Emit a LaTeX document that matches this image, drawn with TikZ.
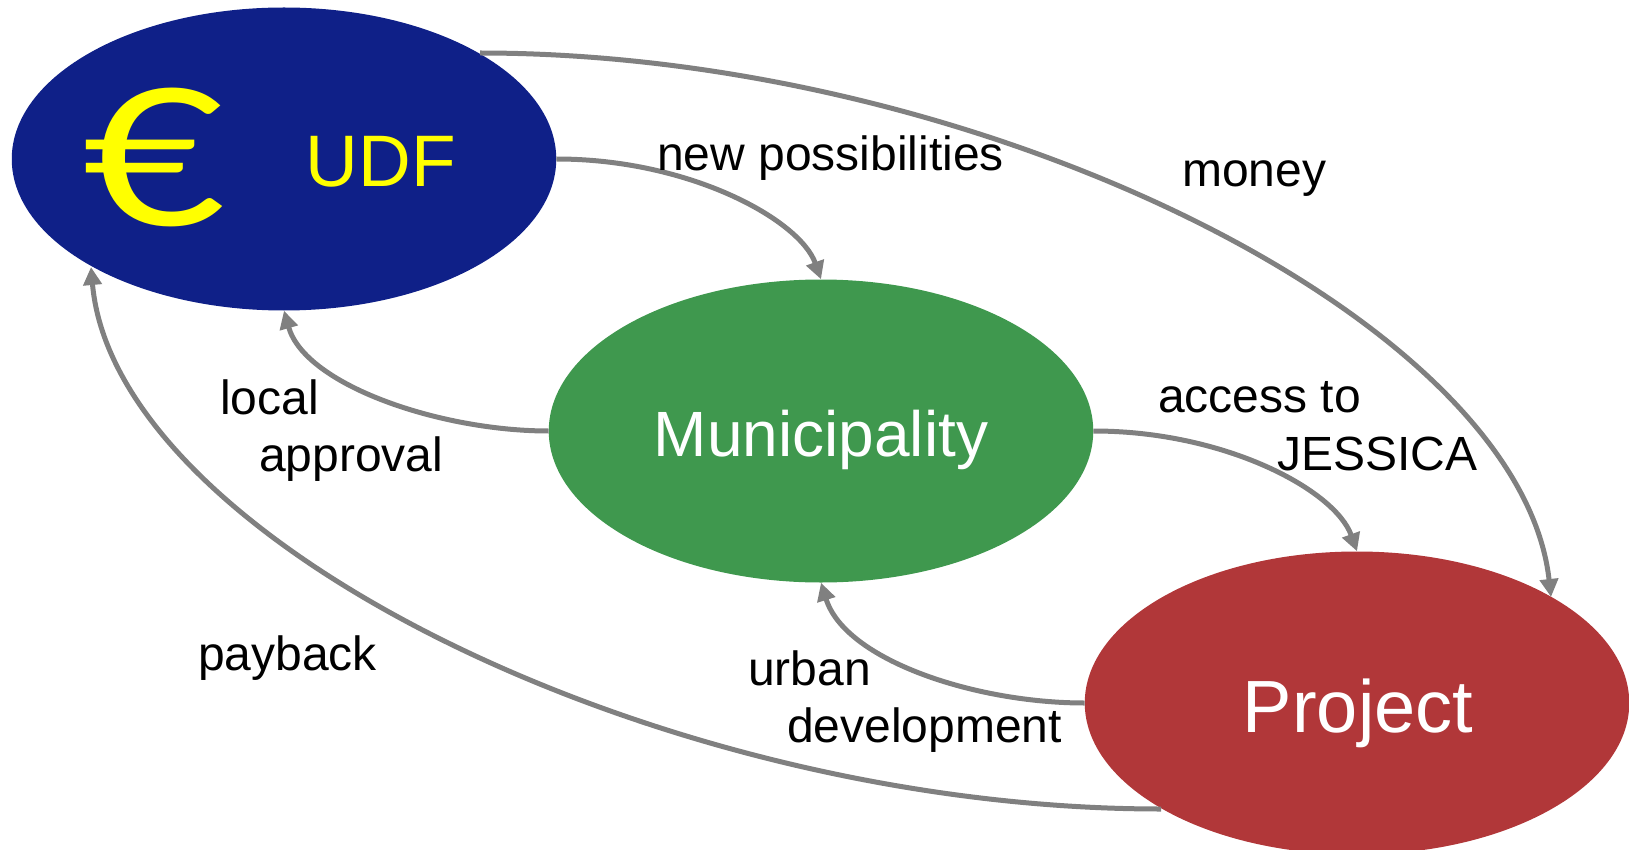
\documentclass[tikz,border=0pt]{standalone}
\usepackage{amsmath,amssymb,amsfonts}
\usepackage{fontspec}
\setmainfont{Liberation Sans}
\newfontfamily\eurofont{Lato}
\usetikzlibrary{shapes.geometric,arrows.meta}
\definecolor{udfblue}{RGB}{15,32,136}
\definecolor{municipalgreen}{RGB}{63,152,78}
\definecolor{projectred}{RGB}{177,55,57}
\definecolor{flowgray}{RGB}{128,128,128}
\definecolor{euroyellow}{RGB}{255,255,0}
\tikzset{
	actor/.style={ellipse, minimum width=544.5pt, minimum height=303pt, inner sep=0pt},
	actorname/.style={text=white, inner sep=0pt, anchor=base},
	flow/.style={line width=5pt, flowgray, -{Triangle[length=18pt,width=18pt]}},
	flowlabel/.style={font=\fontsize{48}{48}\selectfont, text=black, inner sep=0pt, anchor=base west}
}
\begin{document}
\begin{tikzpicture}[x=1pt, y=-1pt]
	\useasboundingbox (0, 0) rectangle (1629, 850);
	\node[actor, fill=udfblue] (udf) at (284, 159) {};
	\node[actor, fill=municipalgreen] (mun) at (821, 431) {};
	\node[actor, fill=projectred] (pro) at (1357, 703) {};
	\node[actorname, font=\fontsize{64}{64}\selectfont] (munname) at (821, 456) {Municipality};
	\node[actorname, font=\fontsize{74}{74}\selectfont] (proname) at (1358, 732) {Project};
	\node[actorname, text=euroyellow, font=\fontsize{73}{73}\selectfont] (udfname) at (381, 187) {UDF};
	\node[actorname, text=euroyellow, font=\eurofont\fontsize{190}{190}\selectfont, xscale=1.3] (euro) at (155, 226) {€};

	\coordinate (money0) at (480, 53);
	\coordinate (money1) at (1551, 597);
	\coordinate (pay0) at (1161, 809);
	\coordinate (pay1) at (91, 267);
	\draw[flow] (udf.east) .. controls (690, 159) and (800, 220) .. (mun.north);
	\draw[flow] (mun.west) .. controls (440, 431) and (305, 385) .. (udf.south);
	\draw[flow] (mun.east) .. controls (1225, 431) and (1335, 490) .. (pro.north);
	\draw[flow] (pro.west) .. controls (975, 703) and (845, 660) .. (mun.south);
	\draw[flow] (money0) .. controls (980, 53) and (1520, 320) .. (money1);
	\draw[flow] (pay0) .. controls (660, 809) and (115, 540) .. (pay1);

	\node[flowlabel] (newposs) at (657, 171) {new possibilities};
	\node[flowlabel] (money) at (1182, 187) {money};
	\node[flowlabel] (local) at (220, 414) {local};
	\node[flowlabel] (approval) at (259, 471) {approval};
	\node[flowlabel] (access) at (1158, 412) {access to};
	\node[flowlabel] (jessica) at (1277, 470) {JESSICA};
	\node[flowlabel] (payback) at (198, 670) {payback};
	\node[flowlabel] (urban) at (748, 685) {urban};
	\node[flowlabel] (development) at (787, 742) {development};
\end{tikzpicture}
\end{document}
